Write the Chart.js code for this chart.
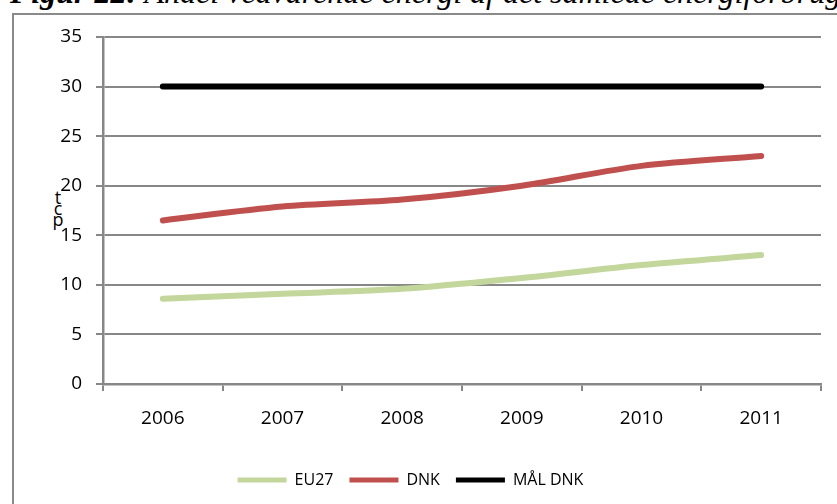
<!DOCTYPE html>
<html>
<head>
<meta charset="utf-8">
<script src="https://cdn.jsdelivr.net/npm/chart.js@4.4.1/dist/chart.umd.min.js"></script>
<style>
    html, body { margin: 0; padding: 0; background: #fff; overflow: hidden; }
    body { width: 837px; height: 504px; position: relative; }
    #title {
        position: absolute; left: 10px; top: -26px; white-space: nowrap;
        font-family: "Liberation Serif", serif; font-style: italic; font-size: 32px; color: #000;
    }
    #frame {
        position: absolute; left: 12px; top: 13px; width: 900px; height: 600px;
        border: 2px solid #8a8a8a; box-sizing: border-box;
    }
    #chartWrap { position: absolute; left: 0; top: 0; width: 837px; height: 504px; }
    #ylab {
        position: absolute; left: 51px; top: 192px; width: 14px;
        font-family: "Open Sans", sans-serif; font-size: 18px; line-height: 11px; text-align: center;
    }
</style>
</head>
<body>
<div id="title"><b>Figur 22:</b> Andel vedvarende energi af det samlede energiforbrug</div>
<div id="frame"></div>
<div id="ylab">t<br>c<br>p</div>
<div id="chartWrap"><canvas id="energyChart" width="837" height="504"></canvas></div>
<script>
// Chart data
const years = ['2006', '2007', '2008', '2009', '2010', '2011'];
const eu27 = [8.6, 9.1, 9.6, 10.7, 12.0, 13.0];
const dnk = [16.5, 17.9, 18.6, 20.0, 22.0, 23.0];
const maalDnk = [30, 30, 30, 30, 30, 30];
const yTicks = [0, 5, 10, 15, 20, 25, 30, 35];

const gridGray = '#878787';
const textColor = '#000000';
const labelFont = { family: 'Open Sans', size: 19 };

function makeSeries(label, data, color) {
    return {
        label: label,
        data: data,
        borderColor: color,
        backgroundColor: color,
        borderWidth: 6,
        borderCapStyle: 'round',
        pointRadius: 0,
        tension: 0.3,
        fill: false
    };
}

const ctx = document.getElementById('energyChart').getContext('2d');
const energyChart = new Chart(ctx, {
    type: 'line',
    data: {
        labels: years,
        datasets: [
            makeSeries('EU27', eu27, '#c3d69b'),
            makeSeries('DNK', dnk, '#c0504d'),
            makeSeries('MÅL DNK', maalDnk, '#000000')
        ]
    },
    options: {
        responsive: false,
        animation: false,
        layout: { padding: { top: 37, right: 16, left: 0, bottom: 6 } },
        scales: {
            x: {
                offset: true,
                afterFit: scale => { scale.height = 72; },
                grid: {
                    offset: true,
                    drawOnChartArea: false,
                    drawTicks: true,
                    tickLength: 7,
                    color: gridGray,
                    lineWidth: 2
                },
                border: { color: gridGray, width: 2.5 },
                ticks: { color: textColor, font: labelFont, padding: 16, maxRotation: 0 }
            },
            y: {
                min: 0,
                max: 35,
                afterFit: scale => { scale.width = 103; },
                afterBuildTicks: scale => { scale.ticks = yTicks.map(v => ({ value: v })); },
                grid: { color: gridGray, lineWidth: 2, tickLength: 7 },
                border: { color: gridGray, width: 2.5 },
                ticks: { color: textColor, font: labelFont, padding: 14 }
            }
        },
        plugins: {
            tooltip: { enabled: false },
            legend: {
                position: 'bottom',
                labels: {
                    color: textColor,
                    font: { family: 'Open Sans', size: 16 },
                    boxWidth: 49,
                    boxHeight: 5,
                    padding: 16,
                    generateLabels: chart => chart.data.datasets.map((ds, i) => ({
                        text: ds.label,
                        fillStyle: ds.borderColor,
                        strokeStyle: ds.borderColor,
                        lineWidth: 0,
                        fontColor: textColor,
                        datasetIndex: i
                    }))
                }
            }
        }
    }
});
</script>
</body>
</html>
